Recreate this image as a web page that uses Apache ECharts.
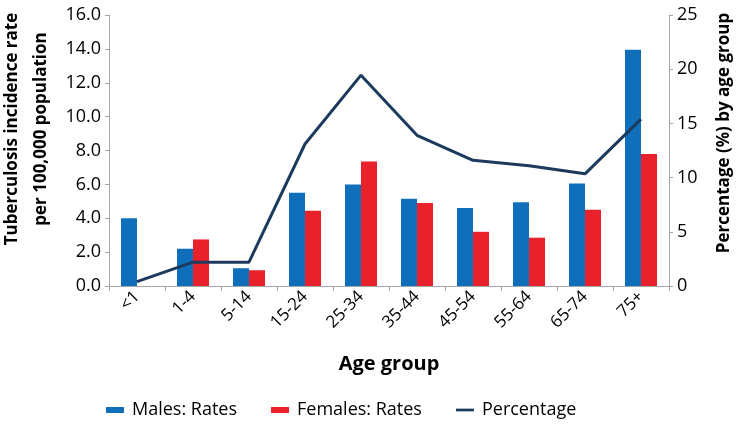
<!DOCTYPE html>
<html>
<head>
<meta charset="utf-8">
<script src="https://cdn.jsdelivr.net/npm/echarts@6/dist/echarts.min.js"></script>
<style>html,body{margin:0;padding:0;background:#fff}#c{width:736px;height:424px}</style>
</head>
<body>
<div id="c"></div>
<script>
const categories = ['<1','1-4','5-14','15-24','25-34','35-44','45-54','55-64','65-74','75+'];
const malesRates = [4.0, 2.2, 1.05, 5.5, 6.0, 5.15, 4.6, 4.95, 6.05, 13.95];
const femalesRates = [0, 2.75, 0.93, 4.45, 7.35, 4.9, 3.2, 2.85, 4.5, 7.8];
const percentage = [0.4, 2.2, 2.2, 13.1, 19.45, 13.9, 11.6, 11.1, 10.35, 15.4];
const leftTicks = {min: 0, max: 16, interval: 2};
const rightTicks = {min: 0, max: 25, interval: 5};

const font = 'Open Sans';
const axisColor = '#a6a6a6';
const chart = echarts.init(document.getElementById('c'));
chart.setOption({
  animation: false,
  grid: {left: 109, right: 67, top: 15, bottom: 138},
  legend: {
    left: 101, top: 396, itemGap: 34, itemWidth: 18, itemHeight: 6,
    textStyle: {fontFamily: font, fontSize: 18, color: '#000', padding: [0, 0, 0, 3]},
    data: [
      {name: 'Males: Rates', icon: 'rect'},
      {name: 'Females: Rates', icon: 'rect'},
      {name: 'Percentage', icon: 'path://M0,0 L20,0 L20,3 L0,3 Z', itemStyle: {color: '#1c3a5e'}}
    ]
  },
  xAxis: {
    type: 'category', data: categories,
    name: 'Age group', nameLocation: 'middle', nameGap: 68,
    nameTextStyle: {fontFamily: font, fontWeight: 'bold', fontSize: 20, color: '#000'},
    axisLine: {lineStyle: {color: axisColor}},
    axisTick: {show: true, length: 5, lineStyle: {color: axisColor}},
    axisLabel: {rotate: 45, fontFamily: font, fontSize: 17, color: '#000', margin: 8}
  },
  yAxis: [
    {
      type: 'value', min: leftTicks.min, max: leftTicks.max, interval: leftTicks.interval,
      axisLine: {show: true, lineStyle: {color: axisColor}},
      axisTick: {show: true, length: 4, lineStyle: {color: axisColor}},
      splitLine: {show: false},
      axisLabel: {fontFamily: font, fontSize: 18, color: '#000', margin: 8,
        formatter: v => v.toFixed(1)}
    },
    {
      type: 'value', min: rightTicks.min, max: rightTicks.max, interval: rightTicks.interval,
      axisLine: {show: true, lineStyle: {color: axisColor}},
      axisTick: {show: true, length: 4, lineStyle: {color: axisColor}},
      splitLine: {show: false},
      axisLabel: {fontFamily: font, fontSize: 18, color: '#000', margin: 8}
    }
  ],
  graphic: [
    {type: 'text', x: 12, y: 129, rotation: Math.PI / 2,
      style: {text: 'Tuberculosis incidence rate', fontFamily: font, fontWeight: 'bold', fontSize: 17,
        fill: '#000', align: 'center', verticalAlign: 'middle'}},
    {type: 'text', x: 41, y: 129, rotation: Math.PI / 2,
      style: {text: 'per 100,000 population', fontFamily: font, fontWeight: 'bold', fontSize: 17,
        fill: '#000', align: 'center', verticalAlign: 'middle'}},
    {type: 'text', x: 724, y: 133, rotation: Math.PI / 2,
      style: {text: 'Percentage (%) by age group', fontFamily: font, fontWeight: 'bold', fontSize: 17,
        fill: '#000', align: 'center', verticalAlign: 'middle'}}
  ],
  series: [
    {name: 'Males: Rates', type: 'bar', data: malesRates, barWidth: 16, barGap: '0%',
      itemStyle: {color: '#0f6fba'}},
    {name: 'Females: Rates', type: 'bar', data: femalesRates, barWidth: 16, barGap: '0%',
      itemStyle: {color: '#e8212b'}},
    {name: 'Percentage', type: 'line', yAxisIndex: 1, data: percentage, symbol: 'none',
      lineStyle: {color: '#1c3a5e', width: 3}, itemStyle: {color: '#1c3a5e'}}
  ]
});
</script>
</body>
</html>
